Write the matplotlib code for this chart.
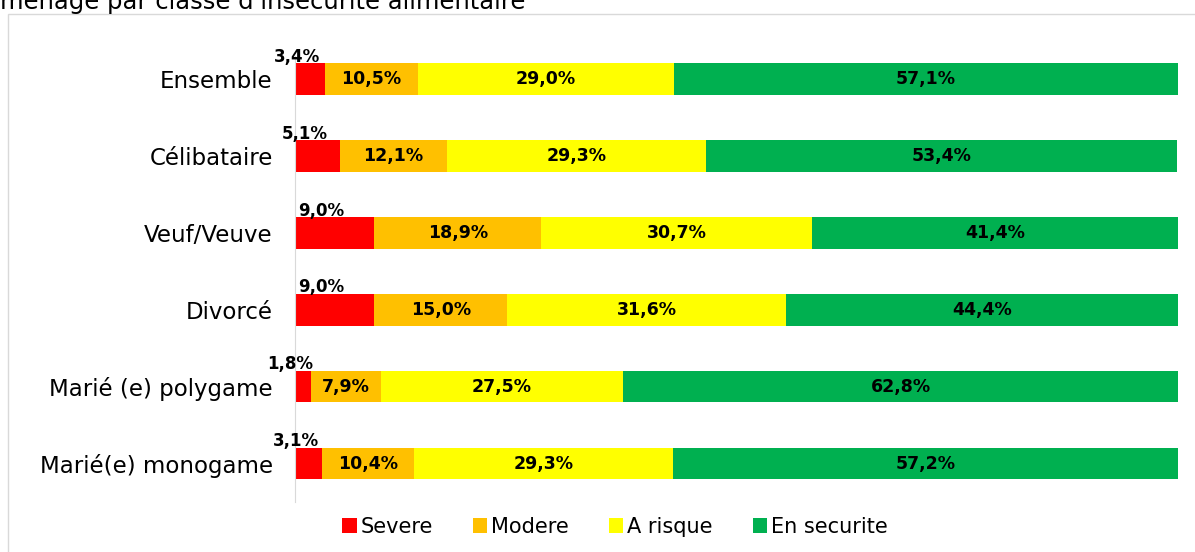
import matplotlib.pyplot as plt
from matplotlib.patches import Rectangle

# Données
categories = ["Ensemble", "Célibataire", "Veuf/Veuve", "Divorcé",
              "Marié (e) polygame", "Marié(e) monogame"]
severe = [3.4, 5.1, 9.0, 9.0, 1.8, 3.1]
modere = [10.5, 12.1, 18.9, 15.0, 7.9, 10.4]
a_risque = [29.0, 29.3, 30.7, 31.6, 27.5, 29.3]
en_securite = [57.1, 53.4, 41.4, 44.4, 62.8, 57.2]

series = [("Severe", severe, "#FF0000"),
          ("Modere", modere, "#FFC000"),
          ("A risque", a_risque, "#FFFF00"),
          ("En securite", en_securite, "#00B050")]

def fmt(v):
    return f"{v:.1f}%".replace(".", ",")

fig = plt.figure(figsize=(11.95, 5.52), dpi=100)
ax = fig.add_axes([295 / 1195, 1 - 502 / 552, (1178 - 295) / 1195, 446 / 552])

# cadre du graphique + titre coupé
fig.patches.append(Rectangle((8 / 1195, -0.1), 1.2, 1 - 14 / 552 + 0.1,
                             transform=fig.transFigure, fill=False,
                             edgecolor="#D9D9D9", linewidth=1))
fig.text(0, 1 - 9 / 552, "ménage par classe d'insécurité alimentaire",
         fontsize=17.5, family="DejaVu Sans", va="baseline", ha="left")

y = list(range(len(categories)))
left = [0] * len(categories)
for name, vals, col in series:
    ax.barh(y, vals, left=left, height=0.41, color=col, label=name)
    for i, v in enumerate(vals):
        if name == "Severe":
            ax.text(v / 2 - 1.5, i - 0.29, fmt(v), ha="center", va="center",
                    fontsize=12, fontweight="bold")
        else:
            ax.text(left[i] + v / 2, i, fmt(v), ha="center", va="center",
                    fontsize=12.5, fontweight="bold")
    left = [a + b for a, b in zip(left, vals)]

ax.set_xlim(0, 100)
ax.set_ylim(len(categories) - 0.5, -0.3)
ax.set_yticks(y)
ax.set_yticklabels(categories, fontsize=16.5)
ax.set_xticks([])
for s in ["top", "right", "bottom"]:
    ax.spines[s].set_visible(False)
ax.spines["left"].set_color("#D9D9D9")
ax.tick_params(axis="y", length=0, pad=16)

ax.legend(loc="center", bbox_to_anchor=(615 / 1195, 1 - 527 / 552),
          bbox_transform=fig.transFigure,
          ncol=4, frameon=False, fontsize=15, handlelength=0.7, handleheight=0.7,
          handletextpad=0.2, columnspacing=1.9)

fig.savefig("out.png", dpi=100)
